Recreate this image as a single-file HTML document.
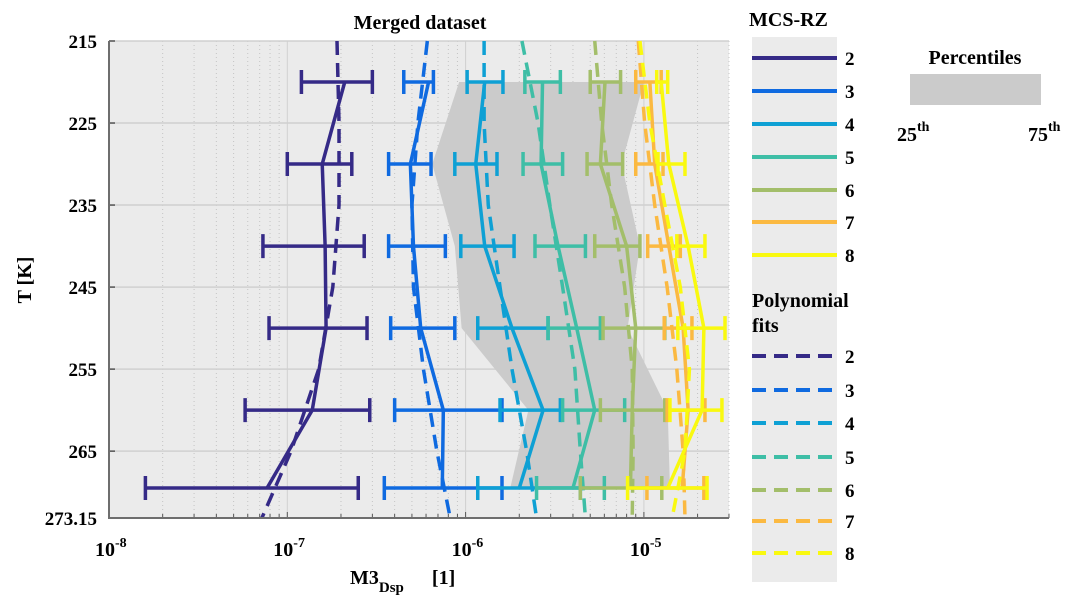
<!DOCTYPE html>
<html><head><meta charset="utf-8"><style>
body{margin:0;background:#fff;width:1077px;height:608px;overflow:hidden}
svg text{font-family:"Liberation Serif",serif;font-weight:bold;fill:#000}
</style></head><body>
<svg id="chart" width="1077" height="608" xmlns="http://www.w3.org/2000/svg">
<rect x="109" y="41" width="620" height="477" fill="#ebebeb"/>
<g id="grid"></g>
<g id="band"></g>
<g id="series"></g>
<g id="axes"></g>
<text x="420" y="29" font-size="20" text-anchor="middle">Merged dataset</text>
<text transform="translate(31,280) rotate(-90)" font-size="20" text-anchor="middle">T [K]</text>
<text x="350" y="584" font-size="20">M3<tspan font-size="15" dy="8">Dsp</tspan><tspan dy="-8" dx="28">[1]</tspan></text>
<g id="legend"></g>
</svg>
<script>
const temps=[220,230,240,250,260,269.5];
const seriesNames=['2','3','4','5','6','7','8'];
const colors=['#352a87','#0f6ae0','#0ea0d4','#3ebea6','#a3be6a','#fbb941','#f9f90f'];
const s2=[2.1e-7,1.57e-7,1.63e-7,1.65e-7,1.38e-7,7.7e-8];
const s2lo=[1.2e-7,1.0e-7,7.3e-8,7.9e-8,5.8e-8,1.6e-8];
const s2hi=[3.0e-7,2.3e-7,2.7e-7,2.8e-7,2.9e-7,2.5e-7];
const s3=[6.2e-7,4.9e-7,5.1e-7,5.6e-7,7.5e-7,7.4e-7];
const s3lo=[4.5e-7,3.7e-7,3.7e-7,3.8e-7,4.0e-7,3.5e-7];
const s3hi=[6.6e-7,6.4e-7,7.7e-7,8.7e-7,1.6e-6,1.6e-6];
const s4=[1.28e-6,1.14e-6,1.28e-6,1.82e-6,2.72e-6,2.0e-6];
const s4lo=[1.02e-6,8.7e-7,9.4e-7,1.17e-6,1.56e-6,1.17e-6];
const s4hi=[1.62e-6,1.5e-6,1.87e-6,2.9e-6,3.4e-6,4.4e-6];
const s5=[2.7e-6,2.65e-6,3.3e-6,4.2e-6,5.3e-6,4.0e-6];
const s5lo=[2.15e-6,2.1e-6,2.45e-6,2.9e-6,3.5e-6,2.5e-6];
const s5hi=[3.4e-6,3.5e-6,4.7e-6,5.7e-6,7.8e-6,6.0e-6];
const s6=[6.05e-6,5.7e-6,8.0e-6,9.0e-6,8.6e-6,8.4e-6];
const s6lo=[5.0e-6,4.8e-6,5.3e-6,5.9e-6,5.7e-6,4.4e-6];
const s6hi=[7.4e-6,7.6e-6,9.5e-6,1.31e-5,1.31e-5,1.26e-5];
const s7=[1.08e-5,1.15e-5,1.38e-5,1.66e-5,1.77e-5,1.64e-5];
const s7lo=[9.0e-6,9.0e-6,1.05e-5,1.3e-5,1.35e-5,1.04e-5];
const s7hi=[1.25e-5,1.28e-5,1.6e-5,1.86e-5,2.2e-5,2.17e-5];
const s8=[1.25e-5,1.38e-5,1.77e-5,2.17e-5,2.12e-5,1.36e-5];
const s8lo=[1.18e-5,1.2e-5,1.53e-5,1.55e-5,1.4e-5,8.1e-6];
const s8hi=[1.36e-5,1.7e-5,2.2e-5,2.85e-5,2.74e-5,2.26e-5];
const fitTemps=[215,225,235,245,255,265,273.15];
const f2=[1.9e-7,1.95e-7,1.95e-7,1.8e-7,1.5e-7,1.05e-7,7.2e-8];
const f3=[6.1e-7,5.4e-7,5.0e-7,5.1e-7,5.8e-7,6.9e-7,8.2e-7];
const f4=[1.27e-6,1.27e-6,1.34e-6,1.56e-6,1.82e-6,2.2e-6,2.5e-6];
const f5=[2.07e-6,2.55e-6,2.97e-6,3.5e-6,4.1e-6,4.4e-6,4.7e-6];
const f6=[5.3e-6,5.8e-6,6.6e-6,7.8e-6,8.6e-6,8.7e-6,8.6e-6];
const f7=[9.3e-6,1.01e-5,1.15e-5,1.35e-5,1.53e-5,1.66e-5,1.7e-5];
const f8=[9.5e-6,1.08e-5,1.31e-5,1.6e-5,1.8e-5,1.7e-5,1.44e-5];
const p25=[9.2e-7,6.5e-7,8.7e-7,9.5e-7,2.25e-6,1.78e-6];
const p75=[1.0e-5,7.5e-6,9.5e-6,8.1e-6,1.36e-5,1.4e-5];
const yTicks=[215,225,235,245,255,265,273.15];
const xTickExps=[-8,-7,-6,-5];

const NS='http://www.w3.org/2000/svg';
const X0=109,X1=729,Y0=41,Y1=518,DEC=178.3;
function xs(v){return X0+DEC*(Math.log10(v)+8);}
function ys(t){return Y0+(t-215)*(Y1-Y0)/(273.15-215);}
function mk(tag,attrs,parent){const e=document.createElementNS(NS,tag);for(const k in attrs)e.setAttribute(k,attrs[k]);parent.appendChild(e);return e;}
const grid=document.getElementById('grid'),axes=document.getElementById('axes'),band=document.getElementById('band'),ser=document.getElementById('series'),leg=document.getElementById('legend');
// grid
for(let e=-8;e<=-5;e++){for(let m=1;m<10;m++){const v=m*Math.pow(10,e);const x=xs(v);if(x<X0||x>X1)continue;
 const l=mk('line',{x1:x,x2:x,y1:Y0,y2:Y1,stroke:m==1?'#d0d0d0':'#c4c4c4','stroke-width':1,'stroke-dasharray':m==1?'':'1,3'},grid);
 
 
 const t=mk('line',{x1:x,x2:x,y1:Y1,y2:Y1-(m==1?6:4),stroke:'#555','stroke-width':1},axes);
 
 }}
yTicks.forEach(t=>{const y=ys(t);
 const l=mk('line',{x1:X0,x2:X1,y1:y,y2:y,stroke:'#d0d0d0','stroke-width':1.5},grid);
 
 
 const k=mk('line',{x1:X0,x2:X0+6,y1:y,y2:y,stroke:'#555','stroke-width':1.5},axes);
 
 
 const tx=mk('text',{x:X0-12,y:y+7,'font-size':19,'text-anchor':'end'},axes);tx.textContent=String(t);
 
 });
xTickExps.forEach(e=>{const x=xs(Math.pow(10,e));
 const tx=mk('text',{x:x-14,y:556,'font-size':20},axes);tx.innerHTML='10<tspan dy="-9" font-size="14">'+e+'</tspan>';
 
 });
const ax=mk('path',{d:`M${X0} ${Y0} V${Y1} H${X1}`,fill:'none',stroke:'#6e6e6e','stroke-width':2},axes);


// percentile band
let pts=temps.map((t,i)=>xs(p25[i])+','+ys(t)).concat(temps.map((t,i)=>xs(p75[i])+','+ys(t)).reverse());
const bp=mk('polygon',{points:pts.join(' '),fill:'#cbcbcb'},band);


// series
const S=[s2,s3,s4,s5,s6,s7,s8],SL=[s2lo,s3lo,s4lo,s5lo,s6lo,s7lo,s8lo],SH=[s2hi,s3hi,s4hi,s5hi,s6hi,s7hi,s8hi],F=[f2,f3,f4,f5,f6,f7,f8];
S.forEach((s,k)=>{const c=colors[k];
 const fl=mk('polyline',{points:fitTemps.map((t,i)=>xs(F[k][i])+','+ys(t)).join(' '),fill:'none',stroke:c,'stroke-width':3.5,'stroke-dasharray':'14,8'},ser);
 
 
 const g=mk('g',{},ser);
 
 
 temps.forEach((t,i)=>{const y=ys(t),a=xs(SL[k][i]),b=xs(SH[k][i]);
  mk('path',{d:`M${a} ${y}H${b}M${a} ${y-12}V${y+12}M${b} ${y-12}V${y+12}`,stroke:c,'stroke-width':3.5,fill:'none'},g);});
 const ln=mk('polyline',{points:temps.map((t,i)=>xs(s[i])+','+ys(t)).join(' '),fill:'none',stroke:c,'stroke-width':3.5},ser);
 
 });
// legend
const t1=mk('text',{x:749,y:26,'font-size':20},leg);t1.textContent='MCS-RZ';


const lb=mk('rect',{x:752,y:37,width:85,height:545,fill:'#ebebeb'},leg);


const t2=mk('text',{x:752,y:307,'font-size':20},leg);t2.textContent='Polynomial';


const t3=mk('text',{x:752,y:332,'font-size':20},leg);t3.textContent='fits';


const ly1=[58,91,124,157,190,222,255],ly2=[356,390,423,457,490,521,553];
colors.forEach((c,k)=>{[[ly1[k],''],[ly2[k],'14,8']].forEach(([y,d],j)=>{
 const g=mk('g',{},leg);
 
 
 mk('line',{x1:752,x2:837,y1:y,y2:y,stroke:c,'stroke-width':4,'stroke-dasharray':d},g);
 const tx=mk('text',{x:845,y:y+7,'font-size':19},g);tx.textContent=seriesNames[k];});});
const t4=mk('text',{x:975,y:64,'font-size':20,'text-anchor':'middle'},leg);t4.textContent='Percentiles';


const pr=mk('rect',{x:910,y:74,width:131,height:31,fill:'#cbcbcb'},leg);


const t5=mk('text',{x:897,y:141,'font-size':20},leg);t5.innerHTML='25<tspan dy="-10" font-size="14">th</tspan>';


const t6=mk('text',{x:1028,y:141,'font-size':20},leg);t6.innerHTML='75<tspan dy="-10" font-size="14">th</tspan>';


</script>
</body></html>
